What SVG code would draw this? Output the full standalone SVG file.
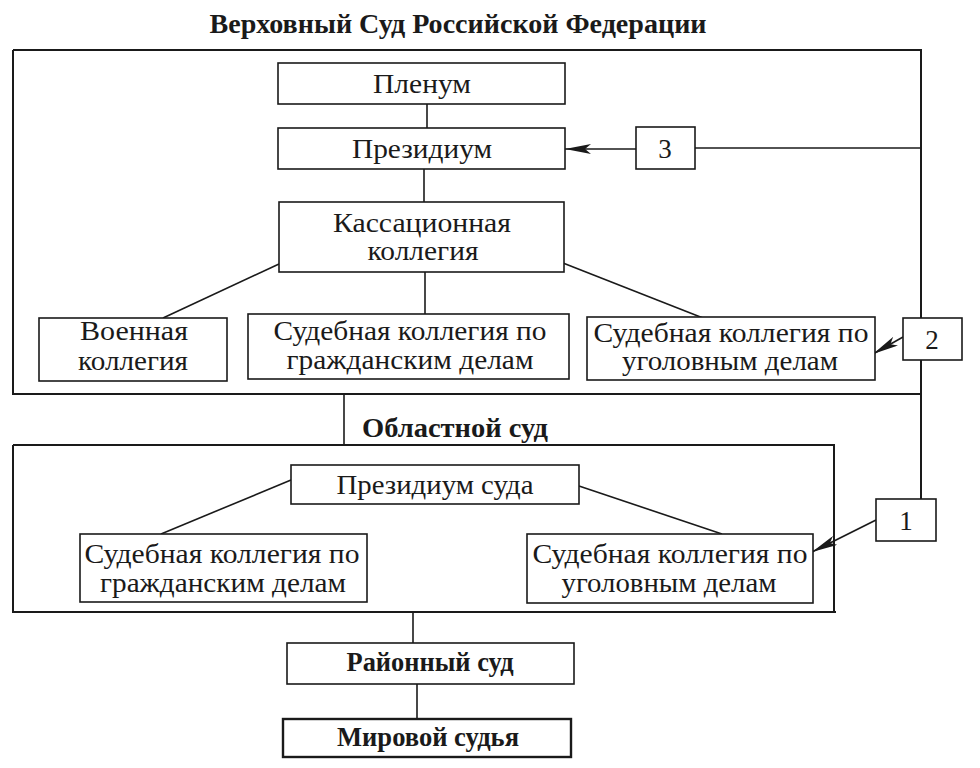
<svg xmlns="http://www.w3.org/2000/svg" width="980" height="768" viewBox="0 0 980 768">
<style>
.box{fill:#fff;stroke:#1a1a1a;stroke-width:1.6}
.thick{stroke-width:2.4}
.ln{fill:none;stroke:#1a1a1a;stroke-width:1.6}
.fr{fill:none;stroke:#1a1a1a;stroke-width:2}
text{font-family:"Liberation Serif","Times New Roman",serif;font-size:27px;fill:#1a1a1a;text-anchor:middle}
.b{font-weight:bold}
</style>
<defs>
<marker id="ah" viewBox="0 0 26 10" refX="26" refY="5" markerWidth="26" markerHeight="10" markerUnits="userSpaceOnUse" orient="auto">
<path d="M0,0 L26,5 L0,10 L6,5 Z" fill="#1a1a1a"/>
</marker>
</defs>
<rect width="980" height="768" fill="#fff"/>
<text class="b" x="458" y="33" textLength="497" lengthAdjust="spacingAndGlyphs">Верховный Суд Российской Федерации</text>
<text class="b" x="455" y="437" textLength="186" lengthAdjust="spacingAndGlyphs">Областной суд</text>
<g id="connectors">
<path class="fr" d="M13,50 H921 V499"/>
<path class="fr" d="M13,50 V394 H921"/>
<path class="ln" d="M344,394 V445"/>
<path class="fr" d="M13,445 H834 V612"/>
<path class="fr" d="M13,445 V612 H836"/>
<path class="ln" d="M427,104 V128"/>
<path class="ln" d="M424,169 V202"/>
<path class="ln" d="M279,264 L163,318"/>
<path class="ln" d="M425,272 V314"/>
<path class="ln" d="M563,263 L703,318"/>
<path class="ln" d="M695,148 H921"/>
<path class="ln" d="M636,149 H565" marker-end="url(#ah)"/>
<path class="ln" d="M903,337 L873,354" marker-end="url(#ah)"/>
<path class="ln" d="M291,480 L161,534"/>
<path class="ln" d="M579,486 L722,534"/>
<path class="ln" d="M876,520 L812,552" marker-end="url(#ah)"/>
<path class="ln" d="M413,612 V643"/>
<path class="ln" d="M417,684 V719"/>
</g>
<g id="plenum"><rect class="box" x="278" y="63" width="287" height="41"/><text x="422" y="93" textLength="98" lengthAdjust="spacingAndGlyphs">Пленум</text></g>
<g id="presidium"><rect class="box" x="278" y="128" width="287" height="41"/><text x="422" y="158" textLength="140" lengthAdjust="spacingAndGlyphs">Президиум</text></g>
<g id="box3"><rect class="box" x="636" y="127" width="59" height="42"/><text x="665" y="158">3</text></g>
<g id="kassation"><rect class="box" x="279" y="202" width="285" height="70"/><text x="422" y="232" textLength="178" lengthAdjust="spacingAndGlyphs">Кассационная</text><text x="423" y="260" textLength="111" lengthAdjust="spacingAndGlyphs">коллегия</text></g>
<g id="military"><rect class="box" x="39" y="318" width="188" height="63"/><text x="134" y="340" textLength="108" lengthAdjust="spacingAndGlyphs">Военная</text><text x="133" y="370" textLength="110" lengthAdjust="spacingAndGlyphs">коллегия</text></g>
<g id="civil-top"><rect class="box" x="248" y="314" width="321" height="65"/><text x="410" y="340" textLength="273" lengthAdjust="spacingAndGlyphs">Судебная коллегия по</text><text x="410" y="369" textLength="247" lengthAdjust="spacingAndGlyphs">гражданским делам</text></g>
<g id="criminal-top"><rect class="box" x="587" y="317" width="288" height="63"/><text x="731" y="342" textLength="275" lengthAdjust="spacingAndGlyphs">Судебная коллегия по</text><text x="730" y="370" textLength="216" lengthAdjust="spacingAndGlyphs">уголовным делам</text></g>
<g id="box2"><rect class="box" x="903" y="318" width="59" height="42"/><text x="932" y="349">2</text></g>
<g id="presidium-court"><rect class="box" x="291" y="465" width="288" height="39"/><text x="435" y="494" textLength="197" lengthAdjust="spacingAndGlyphs">Президиум суда</text></g>
<g id="civil-bottom"><rect class="box" x="80" y="534" width="287" height="68"/><text x="222" y="563" textLength="275" lengthAdjust="spacingAndGlyphs">Судебная коллегия по</text><text x="223" y="592" textLength="246" lengthAdjust="spacingAndGlyphs">гражданским делам</text></g>
<g id="criminal-bottom"><rect class="box" x="527" y="534" width="286" height="69"/><text x="670" y="563" textLength="275" lengthAdjust="spacingAndGlyphs">Судебная коллегия по</text><text x="669" y="592" textLength="215" lengthAdjust="spacingAndGlyphs">уголовным делам</text></g>
<g id="box1"><rect class="box" x="876" y="499" width="60" height="42"/><text x="906" y="530">1</text></g>
<g id="district"><rect class="box" x="287" y="643" width="287" height="41"/><text class="b" x="430" y="671" textLength="167" lengthAdjust="spacingAndGlyphs">Районный суд</text></g>
<g id="magistrate"><rect class="box thick" x="283" y="719" width="288" height="38"/><text class="b" x="428" y="746" textLength="182" lengthAdjust="spacingAndGlyphs">Мировой судья</text></g>
</svg>
